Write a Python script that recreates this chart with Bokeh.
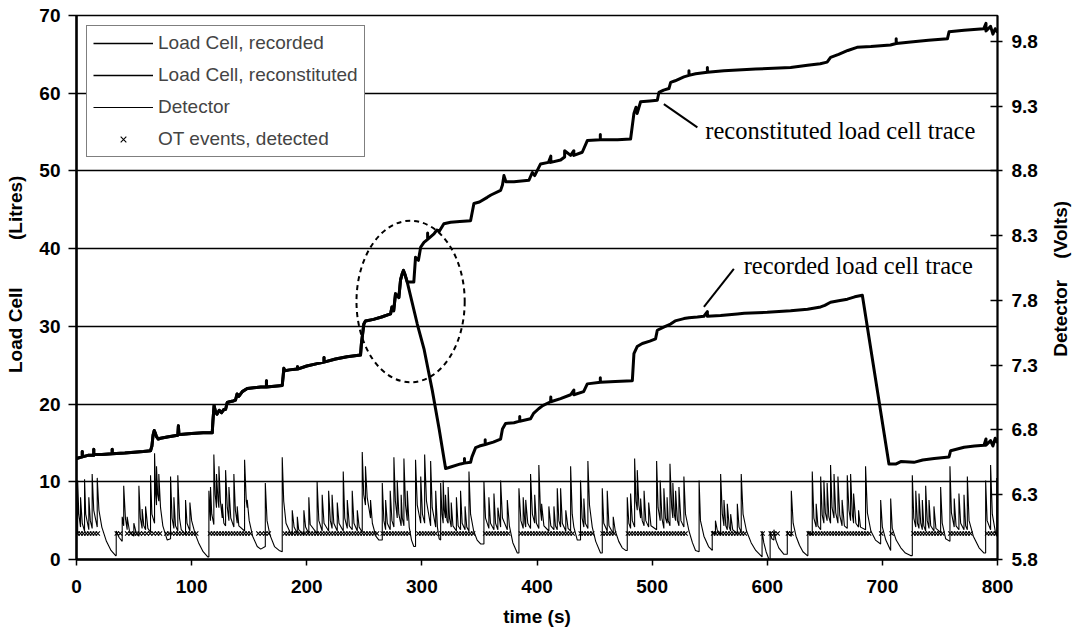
import math
from bokeh.plotting import figure
from bokeh.layouts import row
from bokeh.models import (Range1d, LinearAxis, FixedTicker, PrintfTickFormatter,
                          Legend, LegendItem, Label)
from bokeh.embed import file_html
from bokeh.resources import INLINE

# ---------------- data ----------------
time_ticks = [0, 100, 200, 300, 400, 500, 600, 700, 800]
litre_ticks = [0, 10, 20, 30, 40, 50, 60, 70]
volt_ticks = [5.8, 6.3, 6.8, 7.3, 7.8, 8.3, 8.8, 9.3, 9.8]

# load cell (litres) - shared part of both traces, before the tank is emptied
load_common = [
    (0, 13.0), (5, 13.2), (5, 13.9), (5, 13.2), (10, 13.4), (15, 13.4), (15, 14.2), (15, 13.5),
    (22, 13.5), (31, 13.6), (31, 14.2), (31, 13.6), (42, 13.7), (50, 13.8), (58, 13.9),
    (64.3, 14.0), (65.5, 14.6), (66.5, 16.0), (67.5, 16.6), (68.6, 16.2), (69.5, 15.8), (71, 15.5),
    (73, 15.6), (80, 15.8), (88, 16.0), (88.5, 17.2), (89, 16.1), (90, 16.1), (100, 16.2),
    (110, 16.3), (117.9, 16.3), (118.5, 17.8), (119.5, 19.8), (120.8, 19.0), (122, 18.7),
    (124, 19.2), (126, 18.9), (128, 19.3), (129.5, 19.3), (130.9, 20.2), (133, 20.3), (136, 20.4),
    (138.1, 20.5), (139.5, 21.3), (141, 21.0), (144, 21.6), (148.3, 22.0), (160, 22.2),
    (165, 22.2), (165, 23.0), (165, 22.2), (178.7, 22.4), (179.5, 23.6), (180.1, 24.6),
    (181, 24.3), (185, 24.4), (191.7, 24.5), (192, 24.8), (192, 24.5), (200, 24.9), (209.1, 25.2),
    (215, 25.4), (215, 26.0), (215, 25.4), (225, 25.8), (235, 26.1), (246.7, 26.3), (247.5, 27.8),
    (249.6, 30.3), (251, 30.7), (258, 30.9), (265, 31.2), (272.8, 31.6), (274, 32.5), (275.5, 32.0),
    (277.1, 34.2), (280, 33.7), (281.5, 36.0), (283, 36.8), (284, 37.2),
]

# recorded trace after 284 s (drops when the tank is emptied)
load_recorded_tail = [
    (285.5, 36.6), (287.3, 35.7), (296, 30.3), (302, 27.0), (309, 21.8), (315, 16.8),
    (320.6, 11.7), (325, 11.9), (333.6, 12.3), (337, 12.4), (337, 13.0), (337, 12.4),
    (342.3, 12.5), (343.5, 13.2), (346.7, 14.4), (350, 14.6), (355, 14.8), (355, 15.4), (355, 14.8),
    (362, 15.1), (368.4, 15.5), (370, 16.8), (372.7, 17.5), (380, 17.6), (385, 17.8), (385, 18.4),
    (385, 17.8), (394.4, 18.1), (397, 18.8), (401.4, 19.4), (405, 19.8), (411.8, 20.3),
    (412, 20.9), (412, 20.3), (420.5, 20.7), (429.2, 21.2), (432, 21.8), (432, 21.2),
    (440.5, 21.6), (443.7, 22.6), (455, 22.8), (455, 23.4), (455, 22.8), (468, 22.9),
    (482.8, 23.0), (484.2, 26.5), (487, 27.4), (491.5, 27.8), (498, 28.1), (503, 28.4),
    (504.5, 29.5), (510, 29.9), (516, 30.3), (520, 30.7), (527.6, 31.0), (532, 31.1),
    (539.3, 31.2), (545, 31.3), (548, 31.9), (548, 31.3), (559.5, 31.4), (574, 31.6),
    (580, 31.7), (600, 31.8), (620.3, 32.0), (635, 32.2), (646.4, 32.5), (650, 32.7),
    (655, 33.1), (662, 33.3), (669.6, 33.5), (676, 33.8), (682.6, 34.0), (705.7, 12.3),
    (712, 12.3), (716, 12.6), (727.4, 12.5), (735, 12.8), (745, 13.0), (757.9, 13.2),
    (759.3, 14.0), (771, 14.45), (780, 14.6), (788.3, 14.7), (790, 15.5), (790, 14.7),
    (794, 15.3), (796, 14.6), (798, 15.6), (800, 15.0),
]

# reconstituted trace after 284 s (empties added back)
load_reconstituted_tail = [
    (285.5, 36.6), (287.3, 35.7), (293, 35.7), (294.5, 38.9), (297, 38.5), (299, 40.2),
    (301.8, 40.8), (305, 41.2), (305, 42.0), (305, 41.2), (310.5, 41.9), (313, 42.4), (315, 42.2),
    (319.1, 43.2), (325, 43.4), (333, 43.5), (342.3, 43.6), (345.2, 45.8), (350, 46.0),
    (356.8, 46.6), (360, 46.9), (368.4, 47.5), (370, 48.2), (371.3, 49.4), (373, 48.6),
    (380, 48.6), (393, 48.8), (395.9, 49.8), (398, 49.4), (403.1, 50.9), (410, 51.1),
    (412, 51.9), (412, 51.1), (420.5, 51.4), (424, 51.8), (424, 52.6), (429.2, 52.0),
    (432, 52.6), (432, 52.0), (439.3, 52.4), (443.7, 53.9), (455, 54.0), (455, 54.7),
    (455, 54.0), (470, 54.0), (481.3, 54.1), (484.2, 57.4), (486, 58.2), (487, 57.4),
    (490, 58.9), (498, 59.0), (504.5, 59.1), (505.9, 60.1), (510, 60.4), (514.6, 60.6),
    (516.1, 61.4), (520, 61.6), (527.6, 62.1), (532, 62.3), (532, 62.9), (532, 62.3),
    (537.8, 62.5), (548, 62.7), (548, 63.3), (548, 62.7), (562.4, 62.9), (590, 63.1),
    (620.3, 63.3), (635, 63.6), (646, 63.8), (652, 64.0), (655, 64.6), (662, 65.0),
    (670, 65.5), (678, 65.9), (690, 66.0), (707, 66.2), (712, 66.4), (712, 67.0), (712, 66.4),
    (724.6, 66.6), (740, 66.8), (756.5, 67.0), (757.9, 67.9), (771, 68.1), (788, 68.3),
    (790, 69.0), (790, 68.0), (794, 68.6), (796, 67.6), (798, 68.3), (800, 67.8),
]

# detector signal (volts): pulses with decays between them
detector = [
    (0, 6.02), (1, 6.00), (1, 6.41), (2, 6.15), (3.5, 6.05), (3.5, 6.28), (5, 6.08), (7, 6.02),
    (7, 6.42), (8, 6.15), (10.7, 6.03), (10.7, 6.28), (12, 6.10), (13.6, 6.04), (13.6, 6.46),
    (15, 6.18), (18, 6.05), (18, 6.43), (19.5, 6.18), (22, 6.05), (26, 5.94), (30, 5.87), (34, 5.83),
    (34.5, 5.83), (34.5, 6.02), (37, 5.97), (39.7, 5.94), (39.7, 6.13), (41, 6.06), (41, 6.37),
    (42.5, 6.12), (44, 6.03), (44, 6.13), (46, 6.02), (49.8, 5.98), (49.8, 6.08), (52, 6.00),
    (54.2, 5.98), (54.2, 6.37), (55.5, 6.12), (57, 6.04), (57, 6.19), (58.5, 6.06), (60, 6.03),
    (60, 6.21), (62, 6.04), (64.3, 6.01), (64.3, 6.45), (65.5, 6.15), (67.8, 6.08), (67.8, 6.62),
    (68.8, 6.30), (69.5, 6.22), (69.5, 6.52), (70.5, 6.30), (71.5, 6.25), (71.5, 6.46), (73, 6.20),
    (75, 6.06), (78.8, 5.95), (81.7, 5.96), (81.7, 6.44), (83, 6.12), (84.6, 6.04), (84.6, 6.28),
    (86, 6.06), (88, 6.02), (88, 6.45), (89.5, 6.12), (91, 6.03), (94.7, 5.99), (94.7, 6.26),
    (96, 6.08), (98.5, 6.02), (98.5, 6.24), (100, 6.10), (103, 6.00), (106, 5.93), (110, 5.86),
    (114, 5.82),
    (115, 5.82), (115, 6.33), (116.4, 6.10), (116.4, 6.36), (117.5, 6.15), (119.3, 6.07),
    (119.3, 6.61), (120.5, 6.30), (121.6, 6.20), (121.6, 6.46), (123, 6.25), (123.7, 6.20),
    (123.7, 6.52), (125, 6.25), (126.6, 6.12), (126.6, 6.23), (128, 6.08), (129.5, 6.06),
    (129.5, 6.49), (131, 6.20), (132.4, 6.10), (132.4, 6.36), (134, 6.12), (136.7, 6.05),
    (136.7, 6.46), (138, 6.18), (139.6, 6.08), (139.6, 6.21), (141, 6.06), (146, 6.02),
    (146, 6.57), (147.5, 6.25), (148.3, 6.20), (148.3, 6.26), (150, 6.10), (153, 5.98),
    (157, 5.90), (160, 5.88), (164, 5.90), (164, 6.39), (165.5, 6.10), (168, 5.99), (172, 5.90),
    (176, 5.87), (178.7, 5.86), (178.7, 6.59), (180, 6.25), (182, 6.08), (186, 6.00),
    (187.4, 5.99), (187.4, 6.18), (189, 6.05), (191.8, 6.00), (191.8, 6.13), (193, 6.03),
    (197.5, 5.99), (197.5, 6.18), (199, 6.05), (201.8, 6.00), (201.8, 6.28), (203, 6.07),
    (209, 6.00), (209, 6.40), (210.5, 6.10), (213.4, 6.02), (213.4, 6.30), (215, 6.08),
    (219, 6.02), (219, 6.33), (220.5, 6.10), (222, 6.04), (222, 6.30), (223.5, 6.08),
    (226.5, 6.02), (226.5, 6.24), (228, 6.08), (231.7, 6.02), (231.7, 6.48), (233, 6.12),
    (235.2, 6.04), (235.2, 6.26), (237, 6.06), (239.5, 6.03), (239.5, 6.33), (241, 6.08),
    (243.9, 6.02), (243.9, 6.18), (245.5, 6.05), (248.2, 6.01), (248.2, 6.63), (249.5, 6.30),
    (251, 6.22), (251, 6.52), (252.5, 6.28), (255.4, 6.12), (255.4, 6.26), (257, 6.08),
    (260, 5.98), (262.7, 5.95),
    (265.6, 5.95), (265.6, 6.39), (267, 6.10), (268.5, 6.03), (268.5, 6.26), (270, 6.08),
    (272.5, 6.03), (272.5, 6.33), (274, 6.10), (275.7, 6.05), (275.7, 6.59), (277, 6.25),
    (278.6, 6.12), (278.6, 6.41), (280, 6.15), (282, 6.06), (282, 6.30), (283, 6.12),
    (284.4, 6.06), (284.4, 6.58), (285.8, 6.22), (287.3, 6.10), (287.3, 6.33), (289, 6.05),
    (291, 5.95), (293, 5.90),
    (294.5, 5.90), (294.5, 6.57), (296, 6.22), (299, 6.08), (299, 6.44), (300.5, 6.15),
    (302.4, 6.08), (302.4, 6.61), (304, 6.25), (307.6, 6.06), (307.6, 6.56), (309, 6.20),
    (312, 6.05), (312, 6.33), (313.5, 6.05), (315, 5.96), (316.3, 5.95), (316.3, 6.39),
    (317.5, 6.15), (318.5, 6.08), (318.5, 6.41), (319.5, 6.18), (320.5, 6.12), (320.5, 6.30),
    (321.8, 6.10), (322.8, 6.08), (322.8, 6.36), (324, 6.12), (325.5, 6.05), (325.5, 6.24),
    (327, 6.06), (330, 6.02), (330, 6.28), (331.5, 6.06), (333.6, 6.03), (333.6, 6.33),
    (335, 6.08), (337.5, 6.03), (337.5, 6.21), (339, 6.05), (340.9, 6.02), (340.9, 6.48),
    (342.3, 6.15), (345, 6.02), (348, 5.95), (351, 5.92),
    (353.9, 5.92), (353.9, 6.40), (355.3, 6.12), (358.2, 6.04), (358.2, 6.28), (359.6, 6.08),
    (362.6, 6.03), (362.6, 6.31), (364, 6.08), (366, 6.03), (366, 6.20), (368.4, 6.05),
    (368.4, 6.41), (370, 6.12), (374.2, 6.03), (374.2, 6.26), (376, 6.06), (379, 5.93),
    (382.9, 5.85),
    (384.3, 5.85), (384.3, 6.35), (386, 6.10), (388, 6.04), (388, 6.28), (389.5, 6.08),
    (390.2, 6.05), (390.2, 6.26), (392, 6.08), (394.4, 6.04), (394.4, 6.46), (396, 6.15),
    (398, 6.08), (398, 6.30), (399.5, 6.08), (401.6, 6.04), (401.6, 6.53), (403, 6.18),
    (404, 6.10), (404, 6.23), (406, 6.06), (410.3, 6.02), (410.3, 6.21), (412, 6.06),
    (414.7, 6.03), (414.7, 6.21), (416, 6.06), (417.6, 6.03), (417.6, 6.35), (419, 6.10),
    (420.5, 6.05), (420.5, 6.35), (422, 6.08), (425, 6.02), (425, 6.18), (427, 6.04),
    (429.2, 6.02), (429.2, 6.52), (430.6, 6.15), (432, 6.05), (435, 5.95), (437.8, 5.95),
    (437.8, 6.41), (439.2, 6.12), (440.7, 6.05), (440.7, 6.27), (442, 6.08), (444.2, 6.04),
    (444.2, 6.56), (445.6, 6.22), (448, 6.05), (451, 5.94), (455.2, 5.85),
    (456.7, 5.85), (456.7, 6.35), (458, 6.08), (461, 6.02), (461, 6.33), (462.5, 6.06),
    (466.2, 6.00), (466.2, 6.13), (468, 6.02), (471, 5.94), (474, 5.89), (477, 5.87),
    (478.4, 5.87), (478.4, 6.28), (479.8, 6.08), (481.3, 6.04), (481.3, 6.31), (482.8, 6.10),
    (484.8, 6.05), (484.8, 6.58), (486, 6.25), (487.1, 6.18), (487.1, 6.49), (488.5, 6.22),
    (490, 6.12), (490, 6.27), (491.4, 6.10), (493, 6.06), (493, 6.33), (494.5, 6.10),
    (497, 6.05), (497, 6.24), (499, 6.06), (503.9, 6.03), (503.9, 6.56), (505.2, 6.20),
    (507, 6.10), (507, 6.41), (508.5, 6.12), (510.2, 6.04), (510.2, 6.35), (511.6, 6.12),
    (513, 6.08), (513, 6.28), (514, 6.10), (515.5, 6.06), (515.5, 6.54), (517, 6.20),
    (518, 6.12), (518, 6.39), (519.4, 6.14), (520.4, 6.10), (520.4, 6.33), (522, 6.10),
    (523.3, 6.06), (523.3, 6.36), (525, 6.10), (527.6, 6.05), (527.6, 6.44), (529, 6.15),
    (532, 6.02), (535, 5.93), (537.7, 5.87),
    (540.8, 5.86), (540.8, 6.41), (542, 6.10), (545, 5.98), (549, 5.90), (552.2, 5.87),
    (552.2, 6.02), (554, 6.00), (555, 6.00), (555, 6.10), (556.5, 6.03), (559.5, 5.99),
    (559.5, 6.46), (561, 6.15), (562.4, 6.06), (562.4, 6.26), (564, 6.06), (565.3, 6.03),
    (565.3, 6.23), (567, 6.05), (568.2, 6.02), (568.2, 6.15), (570, 6.03), (574, 6.00),
    (574, 6.23), (575.5, 6.05), (577.4, 6.01), (577.4, 6.46), (579, 6.15), (582, 6.02),
    (586, 5.93), (590, 5.87), (595.5, 5.82),
    (595.5, 6.02), (597, 5.93), (599, 5.86), (601.5, 5.80), (602.5, 5.80), (602.5, 6.02),
    (604, 5.96), (605.8, 5.95), (605.8, 6.03), (607.5, 5.95), (610, 5.89), (614.5, 5.84),
    (617.4, 5.84), (617.4, 6.02), (619, 5.99), (620.9, 5.98), (620.9, 6.33), (622.5, 6.08),
    (625, 5.98), (628, 5.91), (631, 5.86), (634.8, 5.83),
    (635.3, 5.83), (635.3, 6.02), (637, 6.00), (639.1, 5.99), (639.1, 6.48), (640.5, 6.12),
    (642.5, 6.05), (642.5, 6.23), (644, 6.06), (646.4, 6.03), (646.4, 6.44), (647.8, 6.14),
    (649.2, 6.08), (649.2, 6.41), (650.5, 6.16), (652, 6.10), (652, 6.39), (653.5, 6.13),
    (655, 6.08), (655, 6.53), (656.3, 6.20), (658, 6.12), (658, 6.46), (659.5, 6.16),
    (661.4, 6.08), (661.4, 6.44), (663, 6.14), (665, 6.06), (665, 6.26), (667, 6.06),
    (669.5, 6.04), (669.5, 6.45), (671, 6.18), (672.4, 6.10), (672.4, 6.46), (674, 6.14),
    (675, 6.08), (675, 6.31), (677, 6.08), (679.3, 6.05), (679.3, 6.18), (681, 6.05),
    (685.4, 6.03), (685.4, 6.52), (687, 6.16), (690, 6.02), (694, 5.95), (698.5, 5.92),
    (698.5, 6.26), (700, 6.05), (703, 5.95), (707.2, 5.87), (707.2, 6.27), (708.6, 6.04),
    (712, 5.95), (716, 5.89), (720, 5.85), (724.5, 5.83),
    (726, 5.83), (726, 6.45), (727.3, 6.12), (729, 6.05), (729, 6.33), (730.5, 6.08),
    (731.8, 6.04), (731.8, 6.31), (733.3, 6.08), (734.7, 6.03), (734.7, 6.26), (736, 6.06),
    (737.6, 6.02), (737.6, 6.37), (739, 6.10), (740.5, 6.04), (740.5, 6.26), (742, 6.06),
    (744.8, 6.02), (744.8, 6.21), (746.5, 6.04), (750.6, 6.01), (750.6, 6.36), (752, 6.08),
    (755, 5.96), (758.7, 5.94), (758.7, 6.52), (760, 6.16), (762.4, 6.05), (762.4, 6.27),
    (764, 6.06), (766.5, 6.03), (766.5, 6.31), (768, 6.08), (770.9, 6.03), (770.9, 6.30),
    (772.3, 6.06), (773.8, 6.03), (773.8, 6.44), (775.3, 6.10), (779, 5.98), (784, 5.89),
    (788.3, 5.85), (789.7, 5.85), (789.7, 6.41), (791, 6.10), (794, 6.03), (794, 6.53),
    (795.5, 6.15), (798.4, 6.00), (799.3, 5.98), (799.3, 6.43), (800, 6.25),
]

# detected OT events (s), marked on the detector's 6.0 V level
ot_times = [
    1, 3.5, 6, 8.5, 11, 13.5, 16, 18.5, 35, 38, 44, 47, 50, 52.5, 55, 58, 61, 64, 67, 70,
    72.5, 78, 80.5, 83, 86, 88.5, 91, 94, 96.5, 99, 101.5, 104, 116, 118.5, 121, 123.5, 126,
    128.5, 131, 133.5, 136, 138.5, 141, 143.5, 146, 148.5, 151, 158, 161, 164, 167, 181, 183.5,
    186, 188.5, 191, 193.5, 196, 198.5, 201, 203.5, 206, 208.5, 211, 213.5, 216, 218.5, 221,
    223.5, 226, 228.5, 231, 233.5, 236, 238.5, 241, 243.5, 246, 248.5, 251, 253.5, 256, 258.5,
    261, 266, 268.5, 271, 273.5, 276, 278.5, 281, 283.5, 286, 288.5, 297, 299.5, 302, 304.5,
    307, 309.5, 312, 317, 319.5, 322, 324.5, 327, 329.5, 332, 334.5, 337, 339.5, 342, 344.5,
    355, 357.5, 360, 362.5, 365, 367.5, 370, 372.5, 375, 386, 388.5, 391, 393.5, 396, 398.5,
    401, 403.5, 406, 408.5, 411, 413.5, 416, 418.5, 421, 423.5, 426, 428.5, 431, 438, 440.5,
    443, 445.5, 448, 457, 459.5, 462, 464.5, 467, 479, 481.5, 484, 486.5, 489, 491.5, 494,
    496.5, 499, 501.5, 504, 506.5, 509, 511.5, 514, 516.5, 519, 521.5, 524, 526.5, 529, 553,
    555.5, 558, 560.5, 563, 565.5, 568, 570.5, 573, 575.5, 578, 580.5, 596, 603, 606, 609, 618,
    621, 636, 638.5, 641, 643.5, 646, 648.5, 651, 653.5, 656, 658.5, 661, 663.5, 666, 668.5,
    671, 673.5, 676, 678.5, 681, 683.5, 686, 688.5, 699, 708, 727, 729.5, 732, 734.5, 737,
    739.5, 742, 744.5, 747, 749.5, 752, 759, 761.5, 764, 766.5, 769, 771.5, 774, 776.5, 791,
    793.5, 796, 798.5,
]
ot_level = 6.0

# ---------------- figure ----------------
FONT = "Liberation Sans"
SERIF = "Liberation Serif"
NB = "\u00a0"

p = figure(width=1048, height=632, x_range=Range1d(0, 800), y_range=Range1d(0, 70),
           output_backend="svg", toolbar_location=None,
           min_border_left=76, min_border_right=51, min_border_top=15, min_border_bottom=73,
           background_fill_color="white", border_fill_color="white")
p.outline_line_color = "black"
p.outline_line_width = 1.5

p.extra_y_ranges = {"det": Range1d(5.8, 10.0)}

# grid
p.xgrid.grid_line_color = None
p.ygrid.ticker = FixedTicker(ticks=litre_ticks)
p.ygrid.grid_line_color = "black"
p.ygrid.grid_line_width = 1.3

bottom = p.xaxis[0]
left = p.yaxis[0]
right = LinearAxis(y_range_name="det", ticker=FixedTicker(ticks=volt_ticks),
                   formatter=PrintfTickFormatter(format="%.1f"))
p.add_layout(right, "right")

for ax in (bottom, left, right):
    ax.axis_line_width = 2.5
    ax.major_tick_line_width = 1.5
    ax.minor_tick_line_color = None
    ax.major_tick_in = 0
    ax.major_label_text_font = FONT
    ax.major_label_text_font_style = "bold"
    ax.major_label_text_font_size = "19px"
    ax.major_label_text_color = "black"
    ax.axis_label_text_font = FONT
    ax.axis_label_text_font_style = "bold"
    ax.axis_label_text_font_size = "19px"
    ax.axis_label_text_color = "black"

bottom.ticker = FixedTicker(ticks=time_ticks)
bottom.major_tick_out = 6
bottom.major_label_standoff = 14
bottom.axis_label = "time (s)"
bottom.axis_label_standoff = 10

left.ticker = FixedTicker(ticks=litre_ticks)
left.major_tick_out = 8
left.major_label_standoff = 8
left.axis_label = NB * 5 + "Load Cell" + NB * 9 + "(Litres)"
left.axis_label_standoff = 10

right.axis_line_width = 2
right.major_tick_in = 7
right.major_tick_out = 5
right.major_label_standoff = 9

# ---------------- series ----------------
rec = load_common + load_recorded_tail
recon = load_common + load_reconstituted_tail

det_r = p.line([t for t, v in detector], [v for t, v in detector], y_range_name="det",
               line_color="black", line_width=1.1)
ot_r = p.scatter(ot_times, [ot_level] * len(ot_times), y_range_name="det", marker="x",
                 size=6, line_color="black", line_width=1.1)
p.line([t for t, v in recon], [v for t, v in recon], line_color="black", line_width=3,
       line_join="round")
p.line([t for t, v in rec], [v for t, v in rec], line_color="black", line_width=3,
       line_join="round")

# annotations
p.ellipse(x=[290.2], y=[33.2], width=94, height=20.8, fill_alpha=0,
          line_color="black", line_width=2, line_dash="5 4")
p.segment(x0=[510.2, 545.0], y0=[58.6, 32.5], x1=[539.3, 571.0], y1=[55.6, 37.4],
          line_color="black", line_width=2)
p.add_layout(Label(x=546.2, y=55.2, text="reconstituted load cell trace", text_align="left",
                   text_baseline="middle", text_font=SERIF, text_font_size="24.5px",
                   text_color="black"))
p.add_layout(Label(x=579.5, y=37.8, text="recorded load cell trace", text_align="left",
                   text_baseline="middle", text_font=SERIF, text_font_size="24.5px",
                   text_color="black"))

# legend: thin sample lines for the two load cell traces
nan = float("nan")
lg1 = p.line([nan], [nan], line_color="black", line_width=1.5)
lg2 = p.line([nan], [nan], line_color="black", line_width=1.5)
legend = Legend(items=[
    LegendItem(label="Load Cell, recorded", renderers=[lg1]),
    LegendItem(label="Load Cell, reconstituted", renderers=[lg2]),
    LegendItem(label="Detector", renderers=[det_r]),
    LegendItem(label="OT events, detected", renderers=[ot_r]),
], location="top_left")
legend.margin = 10
legend.padding = 6
legend.spacing = 10
legend.label_height = 20
legend.glyph_height = 20
legend.glyph_width = 60
legend.label_standoff = 5
legend.label_text_font = FONT
legend.label_text_font_size = "19px"
legend.border_line_color = "black"
legend.border_line_width = 1.2
legend.background_fill_alpha = 1
p.add_layout(legend)

# narrow strip on the right carrying the detector axis title (reads bottom to top)
side = figure(width=30, height=632, x_range=Range1d(0, 30), y_range=Range1d(0, 632),
              output_backend="svg", toolbar_location=None, x_axis_type=None, y_axis_type=None,
              min_border=0, background_fill_color="white", border_fill_color="white")
side.outline_line_color = None
side.grid.visible = False
side.add_layout(Label(x=12, y=326, text="Detector" + NB * 4 + "(Volts)", angle=math.pi / 2,
                      text_align="center", text_baseline="middle", text_font=FONT,
                      text_font_style="bold", text_font_size="19px", text_color="black"))

layout = row(p, side, spacing=0)
open("out.html", "w").write(file_html(layout, INLINE))
